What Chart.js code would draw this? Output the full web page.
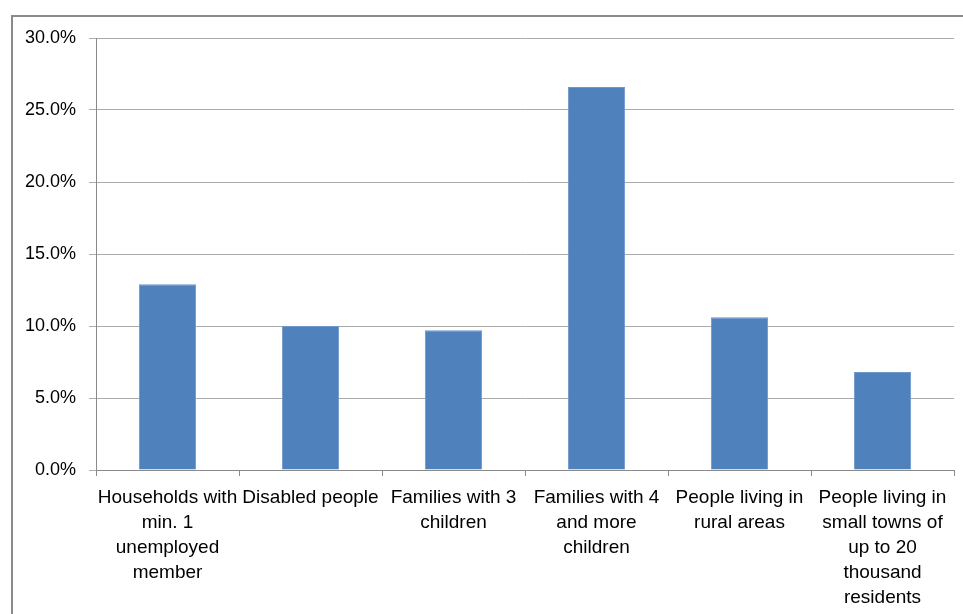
<!DOCTYPE html>
<html>
<head>
<meta charset="utf-8">
<script src="https://cdn.jsdelivr.net/npm/chart.js@4"></script>
<style>
  html, body { margin: 0; padding: 0; background: #fff; }
  #wrap { position: relative; width: 963px; height: 614px; }
  #frame { position: absolute; left: 11px; top: 15px; right: -4px; bottom: -4px;
           border: 2px solid #8a8a8a; }
  canvas { position: absolute; left: 0; top: 0; }
</style>
</head>
<body>
<div id="wrap">
  <div id="frame"></div>
  <canvas id="chart" width="963" height="614"></canvas>
</div>
<script>
// categories (multi-line, as wrapped in the picture)
const categories = [
    ['Households with', 'min. 1', 'unemployed', 'member'],
    ['Disabled people'],
    ['Families with 3', 'children'],
    ['Families with 4', 'and more', 'children'],
    ['People living in', 'rural areas'],
    ['People living in', 'small towns of', 'up to 20', 'thousand', 'residents']
];

// share in percent
const shares = [12.9, 10.0, 9.7, 26.6, 10.6, 6.8];

// y axis range
const yMin = 0;
const yMax = 30;
const yStep = 5;

document.addEventListener("DOMContentLoaded", function() {
    const ctx = document.getElementById('chart').getContext('2d');

    new Chart(ctx, {
        type: 'bar',
        data: {
            labels: categories,
            datasets: [{
                data: shares,
                backgroundColor: '#4f81bd',
                borderColor: '#6f97c9',
                borderWidth: 1,
                barPercentage: 0.4,
                categoryPercentage: 1.0
            }]
        },
        options: {
            responsive: false,
            animation: false,
            layout: {
                padding: { top: 38, right: 9, left: 0, bottom: 0 }
            },
            plugins: {
                legend: { display: false },
                tooltip: { enabled: false }
            },
            scales: {
                x: {
                    offset: true,
                    grid: {
                        offset: true,
                        drawOnChartArea: false,
                        drawTicks: true,
                        tickLength: 6,
                        color: '#8a8a8a'
                    },
                    border: { color: '#8a8a8a', width: 1 },
                    ticks: {
                        color: '#000',
                        padding: 9,
                        maxRotation: 0,
                        autoSkip: false,
                        font: { family: 'Liberation Sans', size: 19, lineHeight: 1.32 }
                    },
                    afterFit: function(scale) { scale.height = 144; }
                },
                y: {
                    min: yMin,
                    max: yMax,
                    grid: {
                        color: '#ababab',
                        tickLength: 7,
                        drawTicks: true
                    },
                    border: { color: '#8a8a8a', width: 1 },
                    ticks: {
                        stepSize: yStep,
                        color: '#000',
                        padding: 13,
                        font: { family: 'Liberation Sans', size: 18 },
                        callback: v => v.toFixed(1) + '%'
                    },
                    afterFit: function(scale) { scale.width = 96; }
                }
            }
        }
    });
});
</script>
</body>
</html>
